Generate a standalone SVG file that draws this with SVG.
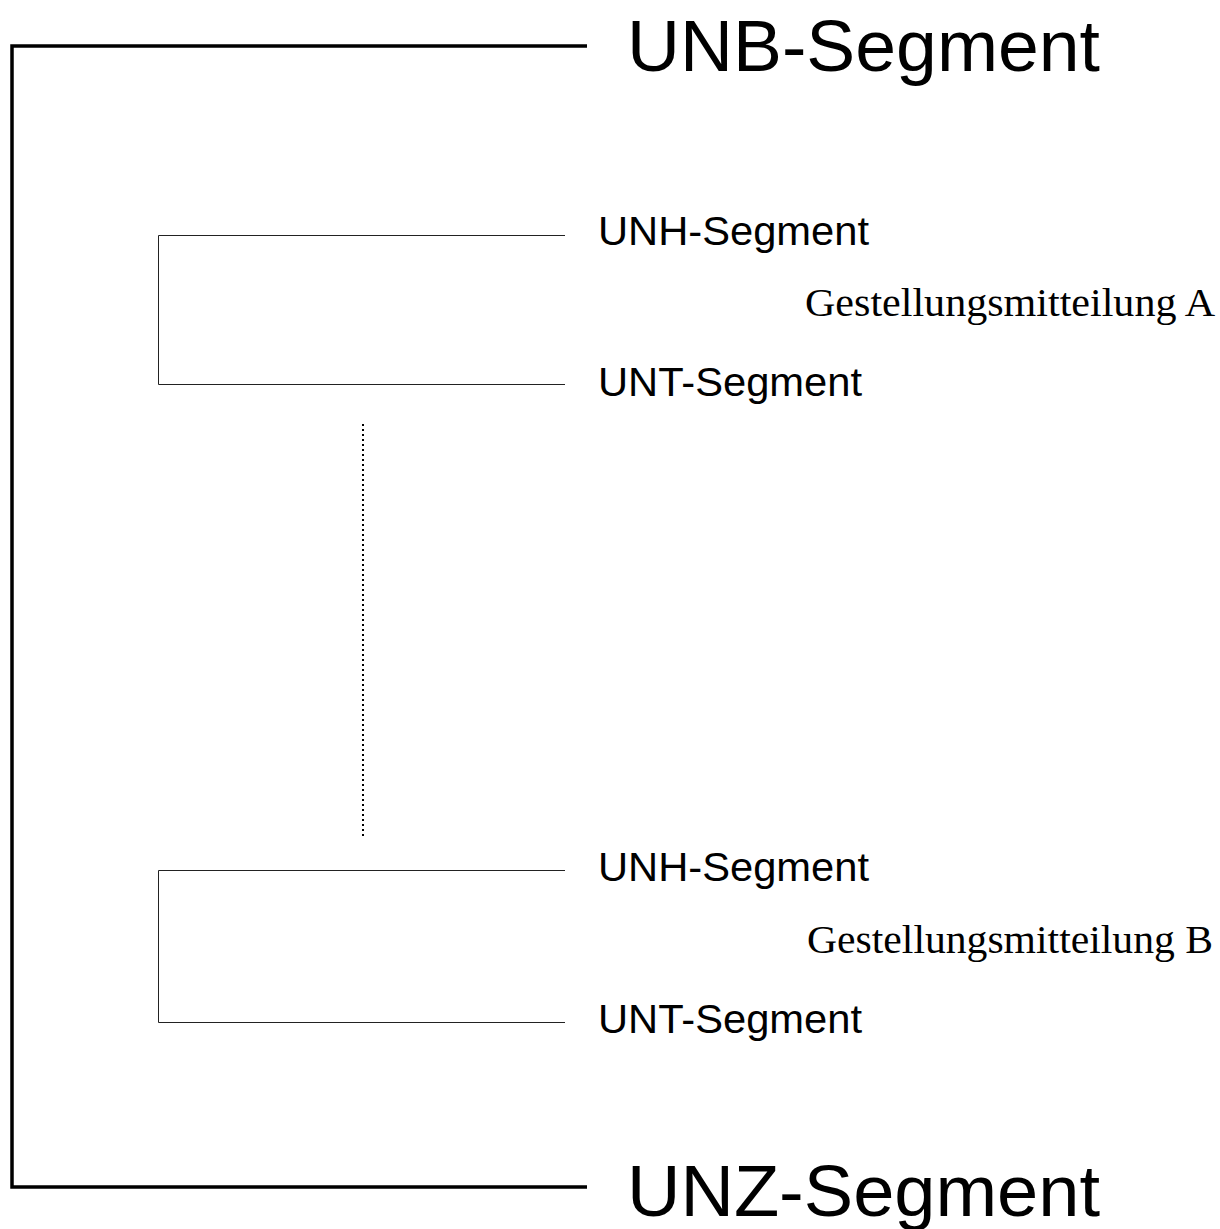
<svg xmlns="http://www.w3.org/2000/svg" width="1220" height="1229" viewBox="0 0 1220 1229">
<style>
.big{font-family:"Liberation Sans",Arial,sans-serif;font-size:72px;fill:#000}
.seg{font-family:"Liberation Sans",Arial,sans-serif;font-size:40px;fill:#000}
.msg{font-family:"Liberation Serif","Times New Roman",serif;font-size:40px;fill:#000}
.thick{fill:none;stroke:#000;stroke-width:3.5}
.thin{fill:none;stroke:#222;stroke-width:1}
.dot{fill:none;stroke:#000;stroke-width:2;stroke-dasharray:2 3}
</style>
<rect width="1220" height="1229" fill="#fff"/>
<g id="connectors">
<path class="thick" d="M587 46 H12 V1187 H587"/>
<path class="thin" d="M565 235.5 H158.5 V384.5 H565"/>
<path class="thin" d="M565 870.5 H158.5 V1022.5 H565"/>
<line class="dot" x1="363" y1="424" x2="363" y2="836"/>
</g>
<g id="unb"><text class="big" x="627" y="71" textLength="473" lengthAdjust="spacingAndGlyphs">UNB-Segment</text></g>
<g id="unh-a"><text class="seg" x="598" y="245" textLength="271" lengthAdjust="spacingAndGlyphs">UNH-Segment</text></g>
<g id="msg-a"><text class="msg" x="805" y="316" textLength="410" lengthAdjust="spacingAndGlyphs">Gestellungsmitteilung A</text></g>
<g id="unt-a"><text class="seg" x="598" y="396" textLength="264" lengthAdjust="spacingAndGlyphs">UNT-Segment</text></g>
<g id="unh-b"><text class="seg" x="598" y="881" textLength="271" lengthAdjust="spacingAndGlyphs">UNH-Segment</text></g>
<g id="msg-b"><text class="msg" x="807" y="953" textLength="406" lengthAdjust="spacingAndGlyphs">Gestellungsmitteilung B</text></g>
<g id="unt-b"><text class="seg" x="598" y="1033" textLength="264" lengthAdjust="spacingAndGlyphs">UNT-Segment</text></g>
<g id="unz"><text class="big" x="627" y="1216" textLength="473" lengthAdjust="spacingAndGlyphs">UNZ-Segment</text></g>
</svg>
